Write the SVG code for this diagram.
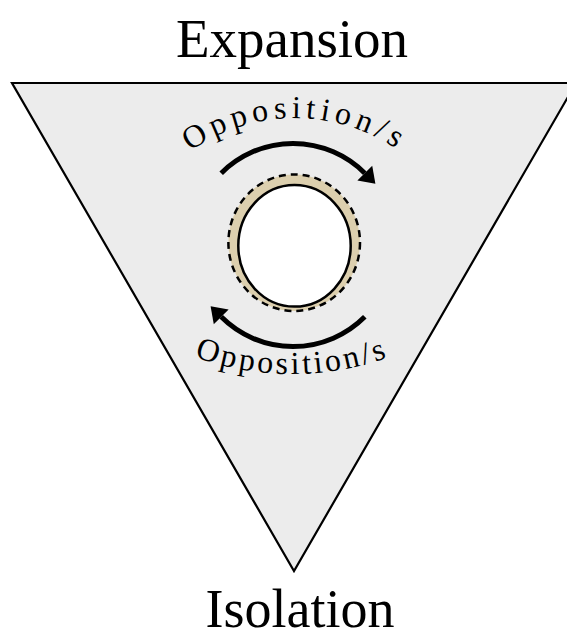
<svg xmlns="http://www.w3.org/2000/svg" width="567" height="640" viewBox="0 0 567 640">
  <style>
    .title { font-family: "Liberation Serif", "Times New Roman", serif; font-size: 55px; fill: #000; }
    .arc-label { font-family: "Liberation Serif", "Times New Roman", serif; font-size: 32px; fill: #000; }
    .arrow { fill: none; stroke: #000; stroke-width: 5; }
  </style>
  <defs>
    <marker id="head" markerUnits="userSpaceOnUse" markerWidth="20" markerHeight="24" viewBox="0 -12 16 24" refX="0" refY="0" orient="auto">
      <path d="M0,-10.5 L15,0 L0,10.5 z" fill="#000"/>
    </marker>
    <path id="topTextPath" d="M124,237.8 A182,182 0 0 1 466,237.8"/>
    <path id="bottomTextPath" d="M25.1,187.1 A284,284 0 0 0 558.9,187.1"/>
  </defs>

  <rect width="567" height="640" fill="#ffffff"/>

  <g id="triangle">
    <polygon points="12,83 576,83 294,571" fill="#ececec" stroke="#000" stroke-width="2.2" stroke-linejoin="miter"/>
  </g>

  <g id="label-expansion">
    <text class="title" x="292" y="57" text-anchor="middle">Expansion</text>
  </g>
  <g id="label-isolation">
    <text class="title" x="300" y="627" text-anchor="middle" style="font-size:54px">Isolation</text>
  </g>

  <g id="ring">
    <ellipse cx="294.2" cy="242.7" rx="65.8" ry="68.3" fill="#dccfae" stroke="#000" stroke-width="2.5" stroke-dasharray="7,5"/>
    <ellipse cx="294.5" cy="245.8" rx="56.2" ry="60.8" fill="#ffffff" stroke="#000" stroke-width="2.5"/>
  </g>

  <g id="connectors">
    <path class="arrow" d="M221.2,173.2 A101.5,101.5 0 0 1 364.8,173.2" marker-end="url(#head)"/>
    <path class="arrow" d="M364.8,316.8 A101.5,101.5 0 0 1 221.2,316.8" marker-end="url(#head)"/>
  </g>

  <g id="label-top-opposition">
    <text class="arc-label" letter-spacing="5"><textPath href="#topTextPath" startOffset="50%" text-anchor="middle">Opposition/s</textPath></text>
  </g>
  <g id="label-bottom-opposition">
    <text class="arc-label" letter-spacing="3"><textPath href="#bottomTextPath" startOffset="50%" text-anchor="middle">Opposition/s</textPath></text>
  </g>
</svg>
